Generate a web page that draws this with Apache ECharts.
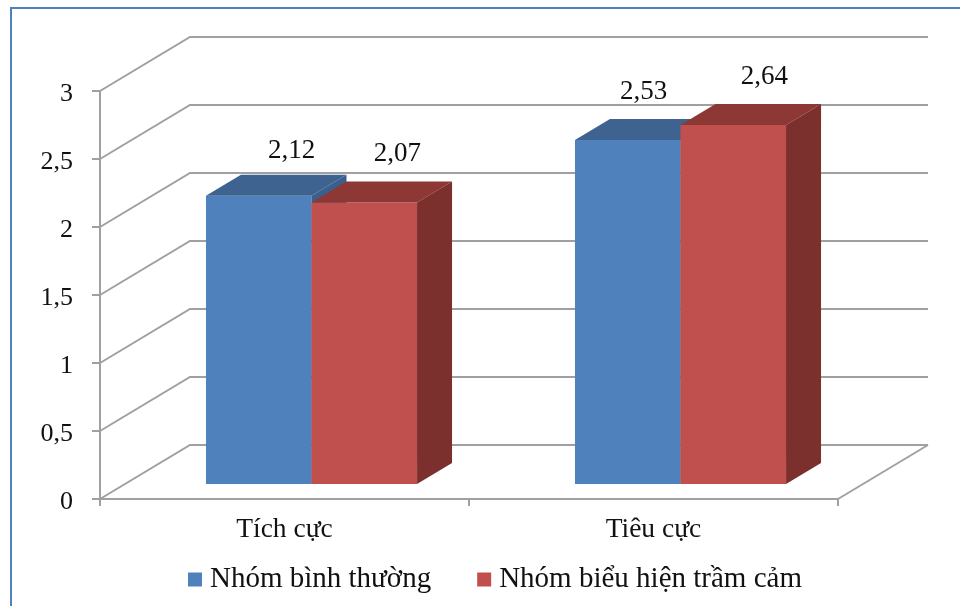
<!DOCTYPE html>
<html>
<head>
<meta charset="utf-8">
<title>Tích cực / Tiêu cực</title>
<style>html,body{margin:0;padding:0;background:#fff}#chart{width:960px;height:606px}</style>
<script src="https://cdn.jsdelivr.net/npm/echarts@6/dist/echarts.min.js"></script>
</head>
<body>
<div id="chart"></div>
<script>
// Chart values
const categories = ['Tích cực', 'Tiêu cực'];
const seriesNames = ['Nhóm bình thường', 'Nhóm biểu hiện trầm cảm'];
const normalGroup = [2.12, 2.53];
const depressedGroup = [2.07, 2.64];
const valueTicks = [0, 0.5, 1, 1.5, 2, 2.5, 3];

// Oblique projection of the box: wall depth, column inset and column depth, in pixels
const WALL_DX = 90, WALL_DY = -54;
const BAR_LIFT = 15, BAR_DX = 35, BAR_DY = -21, BAR_SHIFT = 27, BAR_WIDTH_RATIO = 0.286;
const FONT = '"Liberation Serif", "Times New Roman", serif';
const GRID_COLOR = '#a0a0a0';
const TEXT_COLOR = '#111';

// Label nudges relative to each column's centre, per series then per category
const labelNudge = [[[33, -45], [16, -48]], [[33, -49], [31, -48]]];

const decimalComma = v => String(v).replace('.', ',');

// Floor and back-wall lines, one polyline per value tick
function renderWall(params, api) {
  const v = api.value(0);
  const left = api.coord([0, v]);
  const band = api.size([1, 0])[0];
  const x0 = left[0] - band / 2, y0 = left[1];
  const x1 = x0 + band * categories.length;
  const children = [{
    type: 'polyline',
    shape: { points: [[x0, y0], [x0 + WALL_DX, y0 + WALL_DY], [x1 + WALL_DX, y0 + WALL_DY]] },
    style: { stroke: GRID_COLOR, lineWidth: 2, fill: null }
  }];
  if (v === 0) {
    children.push({
      type: 'line',
      shape: { x1: x1, y1: y0, x2: x1 + WALL_DX, y2: y0 + WALL_DY },
      style: { stroke: GRID_COLOR, lineWidth: 2 }
    });
  }
  return { type: 'group', children: children };
}

// One extruded column: front, top and side faces plus its value label
function columnRenderer(seriesIndex, front, top, side) {
  return function (params, api) {
    const cat = api.value(0), val = api.value(1);
    const head = api.coord([cat, val]);
    const foot = api.coord([cat, 0]);
    const w = api.size([1, 0])[0] * BAR_WIDTH_RATIO;
    const x = head[0] + BAR_SHIFT + (seriesIndex === 0 ? -w : 0);
    const yTop = head[1] - BAR_LIFT, yBase = foot[1] - BAR_LIFT;
    const nudge = labelNudge[seriesIndex][cat];
    return {
      type: 'group',
      children: [
        { type: 'rect', shape: { x: x, y: yTop, width: w, height: yBase - yTop }, style: { fill: front } },
        { type: 'polygon',
          shape: { points: [[x, yTop], [x + BAR_DX, yTop + BAR_DY], [x + w + BAR_DX, yTop + BAR_DY], [x + w, yTop]] },
          style: { fill: top } },
        { type: 'polygon',
          shape: { points: [[x + w, yTop], [x + w + BAR_DX, yTop + BAR_DY], [x + w + BAR_DX, yBase + BAR_DY], [x + w, yBase]] },
          style: { fill: side } },
        { type: 'text',
          style: { x: x + w / 2 + nudge[0], y: yTop + nudge[1], text: decimalComma(val),
                   font: '27px ' + FONT, fill: TEXT_COLOR, align: 'center', verticalAlign: 'middle' } }
      ]
    };
  };
}

const chart = echarts.init(document.getElementById('chart'), null, { renderer: 'canvas' });
chart.setOption({
  animation: false,
  backgroundColor: '#fff',
  graphic: [
    // Blue frame around the chart area, open towards the right and bottom
    { type: 'line', shape: { x1: 11, y1: 8, x2: 960, y2: 8 }, style: { stroke: '#4f81bd', lineWidth: 2 } },
    { type: 'line', shape: { x1: 11, y1: 7, x2: 11, y2: 606 }, style: { stroke: '#4f81bd', lineWidth: 2 } }
  ],
  grid: { left: 100, top: 91, width: 738, height: 408 },
  legend: {
    data: seriesNames.map(name => ({ name: name, icon: 'rect' })),
    left: 183, top: 560,
    itemWidth: 14, itemHeight: 14, itemGap: 46,
    selectedMode: false,
    textStyle: { fontFamily: FONT, fontSize: 29, color: TEXT_COLOR, padding: [0, 0, 0, 3] }
  },
  xAxis: {
    type: 'category',
    data: categories,
    axisLine: { lineStyle: { color: GRID_COLOR, width: 2 } },
    axisTick: { show: true, alignWithLabel: false, length: 7, lineStyle: { color: GRID_COLOR, width: 2 } },
    axisLabel: { fontFamily: FONT, fontSize: 27.5, color: TEXT_COLOR, margin: 17 }
  },
  yAxis: {
    type: 'value',
    min: 0, max: 3, interval: 0.5,
    axisLine: { show: true, lineStyle: { color: GRID_COLOR, width: 2 } },
    axisTick: { show: true, length: 8, lineStyle: { color: GRID_COLOR, width: 2 } },
    splitLine: { show: false },
    axisLabel: { fontFamily: FONT, fontSize: 26, color: TEXT_COLOR, margin: 27, verticalAlign: 'top', lineHeight: 6, formatter: decimalComma }
  },
  series: [
    { type: 'custom', name: 'wall', renderItem: renderWall, silent: true, z: 1,
      data: valueTicks.map(v => [v]), encode: { y: 0 } },
    { type: 'custom', name: seriesNames[0], z: 2, itemStyle: { color: '#4f81bd' },
      renderItem: columnRenderer(0, '#4f81bd', '#3e6390', '#3a5f8d'),
      data: normalGroup.map((v, i) => [i, v]), encode: { x: 0, y: 1 } },
    { type: 'custom', name: seriesNames[1], z: 3, itemStyle: { color: '#c0504d' },
      renderItem: columnRenderer(1, '#c0504d', '#8e3836', '#7b302e'),
      data: depressedGroup.map((v, i) => [i, v]), encode: { x: 0, y: 1 } }
  ]
});
</script>
</body>
</html>
